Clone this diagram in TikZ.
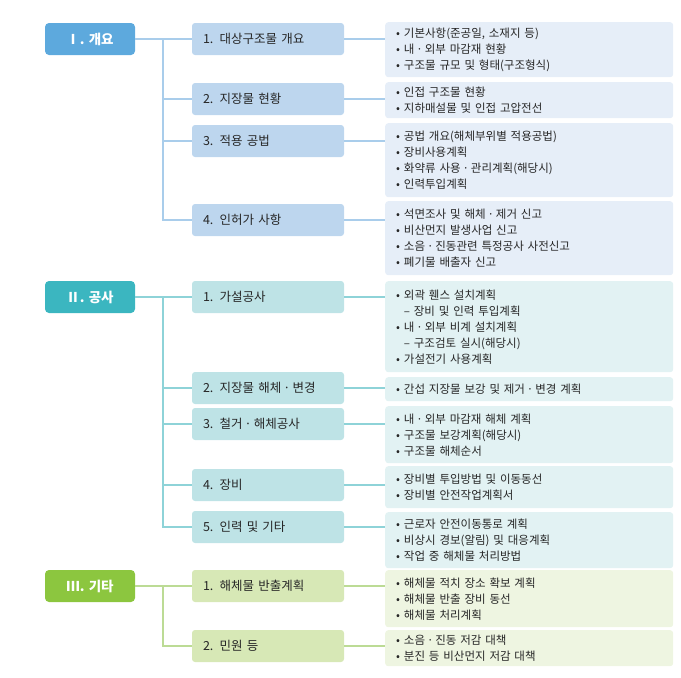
\documentclass[tikz,border=0pt]{standalone}
\usepackage{fontspec}
\setmainfont{Noto Sans CJK KR}
\definecolor{b1}{HTML}{5DA9DD}\definecolor{b2}{HTML}{BDD6EE}\definecolor{b3}{HTML}{E6EEF8}\definecolor{bl}{HTML}{A9CDEB}
\definecolor{t1}{HTML}{3BB6C0}\definecolor{t2}{HTML}{BEE3E6}\definecolor{t3}{HTML}{E2F2F3}\definecolor{tl}{HTML}{8ED3D8}
\definecolor{g1}{HTML}{8CC63F}\definecolor{g2}{HTML}{D7E8B6}\definecolor{g3}{HTML}{EEF5E1}\definecolor{gl}{HTML}{BCDB95}
\newcommand{\md}{\,·\,}
\begin{document}
\begin{tikzpicture}[x=1pt,y=-1pt,
 lone/.style={rounded corners=4pt,minimum width=90pt,minimum height=32pt,text=white,font=\fontsize{13.5}{15}\selectfont\bfseries,inner sep=0pt},
 ltwo/.style={rounded corners=3pt,minimum width=152pt,minimum height=32pt,font=\fontsize{12.5}{15}\selectfont,text=black!85,inner sep=0pt,text width=130pt,align=left},
 lthree/.style={rounded corners=3pt,minimum width=288pt,font=\fontsize{11.5}{16}\selectfont,text=black!85,inner xsep=11pt,inner ysep=0pt,text width=266pt,align=left,anchor=north west},
 con/.style={line width=1.2pt}]
\useasboundingbox (0,0) rectangle (681,678);
% I
\node[lone,fill=b1] (I) at (90,39) {Ⅰ. 개요};
\node[ltwo,fill=b2] (a1) at (268,39) {1. 대상구조물 개요};
\node[ltwo,fill=b2] (a2) at (268,99) {2. 지장물 현황};
\node[ltwo,fill=b2] (a3) at (268,141) {3. 적용 공법};
\node[ltwo,fill=b2] (a4) at (268,220) {4. 인허가 사항};
\node[lthree,fill=b3,minimum height=55pt] (A1) at (385,22) {• 기본사항(준공일, 소재지 등)\\• 내\md 외부 마감재 현황\\• 구조물 규모 및 형태(구조형식)};
\node[lthree,fill=b3,minimum height=36pt] (A2) at (385,82) {• 인접 구조물 현황\\• 지하매설물 및 인접 고압전선};
\node[lthree,fill=b3,minimum height=74pt] (A3) at (385,123) {• 공법 개요(해체부위별 적용공법)\\• 장비사용계획\\• 화약류 사용\md 관리계획(해당시)\\• 인력투입계획};
\node[lthree,fill=b3,minimum height=74pt] (A4) at (385,201) {• 석면조사 및 해체\md 제거 신고\\• 비산먼지 발생사업 신고\\• 소음\md 진동관련 특정공사 사전신고\\• 폐기물 배출자 신고};
\coordinate (ta) at (163,39);\coordinate (tb) at (163,220);
\draw[con,bl] (I.east)--(a1.west) (ta)--(tb)--(a4.west) (ta|-a2)--(a2.west) (ta|-a3)--(a3.west);
\foreach \s/\t in {a1/A1,a2/A2,a3/A3,a4/A4}\draw[con,bl] (\s.east)--(\s.east-|\t.west);
% II
\node[lone,fill=t1] (II) at (90,297) {Ⅱ. 공사};
\node[ltwo,fill=t2] (b1) at (268,297) {1. 가설공사};
\node[ltwo,fill=t2] (b2) at (268,388) {2. 지장물 해체\md 변경};
\node[ltwo,fill=t2] (b3) at (268,424) {3. 철거\md 해체공사};
\node[ltwo,fill=t2] (b4) at (268,485) {4. 장비};
\node[ltwo,fill=t2] (b5) at (268,527) {5. 인력 및 기타};
\node[lthree,fill=t3,minimum height=91pt] (B1) at (385,281) {• 외곽 휀스 설치계획\\\ \ – 장비 및 인력 투입계획\\• 내\md 외부 비계 설치계획\\\ \ – 구조검토 실시(해당시)\\• 가설전기 사용계획};
\node[lthree,fill=t3,minimum height=24pt] (B2) at (385,377) {• 간섭 지장물 보강 및 제거\md 변경 계획};
\node[lthree,fill=t3,minimum height=57pt] (B3) at (385,406) {• 내\md 외부 마감재 해체 계획\\• 구조물 보강계획(해당시)\\• 구조물 해체순서};
\node[lthree,fill=t3,minimum height=42pt] (B4) at (385,466) {• 장비별 투입방법 및 이동동선\\• 장비별 안전작업계획서};
\node[lthree,fill=t3,minimum height=56pt] (B5) at (385,512) {• 근로자 안전이동통로 계획\\• 비상시 경보(알림) 및 대응계획\\• 작업 중 해체물 처리방법};
\coordinate (tc) at (163,297);\coordinate (td) at (163,527);
\draw[con,tl] (II.east)--(b1.west) (tc)--(td)--(b5.west) (tc|-b2)--(b2.west) (tc|-b3)--(b3.west) (tc|-b4)--(b4.west);
\foreach \s/\t in {b1/B1,b2/B2,b3/B3,b4/B4,b5/B5}\draw[con,tl] (\s.east)--(\s.east-|\t.west);
% III
\node[lone,fill=g1] (III) at (90,586) {Ⅲ. 기타};
\node[ltwo,fill=g2] (c1) at (268,586) {1. 해체물 반출계획};
\node[ltwo,fill=g2] (c2) at (268,646) {2. 민원 등};
\node[lthree,fill=g3,minimum height=57pt] (C1) at (385,570) {• 해체물 적치 장소 확보 계획\\• 해체물 반출 장비 동선\\• 해체물 처리계획};
\node[lthree,fill=g3,minimum height=36pt] (C2) at (385,630) {• 소음\md 진동 저감 대책\\• 분진 등 비산먼지 저감 대책};
\coordinate (te) at (163,586);
\draw[con,gl] (III.east)--(c1.west) (te)--(te|-c2)--(c2.west);
\foreach \s/\t in {c1/C1,c2/C2}\draw[con,gl] (\s.east)--(\s.east-|\t.west);
\end{tikzpicture}
\end{document}
